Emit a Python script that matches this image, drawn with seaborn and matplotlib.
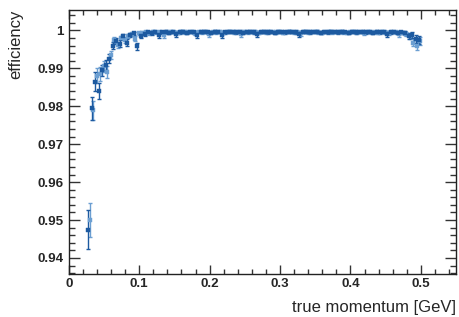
import numpy as np
import pandas as pd
import matplotlib
matplotlib.use('Agg')
import matplotlib.pyplot as plt
from matplotlib.ticker import MultipleLocator, FuncFormatter
import seaborn as sns

sns.set_style('ticks')
plt.rcParams['font.family'] = ['Liberation Sans', 'DejaVu Sans']

# bin centres (GeV), two overlaid samples
x_dark = np.arange(95) * 0.005 + 0.0275
x_light = np.arange(95) * 0.005 + 0.0295

eff_dark = [
    0.9475, 0.9795, 0.9865, 0.9840, 0.9895, 0.9908, 0.9925, 0.9960, 0.9972, 0.9965,
    0.9985, 0.9968, 0.9988, 0.9993, 0.9958, 0.9985, 0.9990,
    0.9995, 0.9993, 0.9996, 0.9988, 0.9995, 0.9997, 0.9994, 0.9996, 0.9990, 0.9995,
    0.9997, 0.9994, 0.9996, 0.9995, 0.9989, 0.9996, 0.9997, 0.9995, 0.9994, 0.9997,
    0.9996, 0.9988, 0.9995, 0.9997, 0.9996, 0.9995, 0.9997, 0.9994, 0.9996, 0.9997,
    0.9995, 0.9990, 0.9996, 0.9997, 0.9995, 0.9996, 0.9994, 0.9997, 0.9996, 0.9995,
    0.9997, 0.9996, 0.9995, 0.9991, 0.9996, 0.9997, 0.9995, 0.9996, 0.9997, 0.9994,
    0.9996, 0.9995, 0.9997, 0.9996, 0.9995, 0.9997, 0.9996, 0.9994, 0.9997, 0.9995,
    0.9996, 0.9997, 0.9995, 0.9996, 0.9994, 0.9997, 0.9995, 0.9996, 0.9990, 0.9995,
    0.9996, 0.9994, 0.9995,
    0.9993, 0.9985, 0.9988, 0.9978, 0.9975,
]
err_dark = [
    0.0052, 0.0030, 0.0025, 0.0022, 0.0015, 0.0013, 0.0012, 0.0009, 0.0008, 0.0009,
    0.0006, 0.0008, 0.0005, 0.0004, 0.0010, 0.0006, 0.0005,
    0.0004, 0.0004, 0.0003, 0.0008, 0.0004, 0.0003, 0.0004, 0.0003, 0.0008, 0.0004,
    0.0003, 0.0004, 0.0003, 0.0004, 0.0009, 0.0003, 0.0003, 0.0004, 0.0004, 0.0003,
    0.0003, 0.0008, 0.0004, 0.0003, 0.0003, 0.0004, 0.0003, 0.0004, 0.0003, 0.0003,
    0.0004, 0.0008, 0.0003, 0.0003, 0.0004, 0.0003, 0.0004, 0.0003, 0.0003, 0.0004,
    0.0003, 0.0003, 0.0004, 0.0008, 0.0003, 0.0003, 0.0004, 0.0003, 0.0003, 0.0004,
    0.0003, 0.0004, 0.0003, 0.0003, 0.0004, 0.0003, 0.0003, 0.0004, 0.0003, 0.0004,
    0.0003, 0.0003, 0.0004, 0.0003, 0.0004, 0.0003, 0.0004, 0.0003, 0.0008, 0.0004,
    0.0003, 0.0004, 0.0004,
    0.0005, 0.0008, 0.0007, 0.0010, 0.0010,
]

eff_light = [
    0.9500, 0.9790, 0.9880, 0.9885, 0.9905, 0.9890, 0.9935, 0.9975, 0.9962, 0.9980,
    0.9975, 0.9985, 0.9990, 0.9978, 0.9992,
    0.9994, 0.9996, 0.9993, 0.9997, 0.9995, 0.9996, 0.9989, 0.9995, 0.9997, 0.9996,
    0.9994, 0.9997, 0.9995, 0.9996, 0.9997, 0.9993, 0.9996, 0.9995, 0.9997, 0.9990,
    0.9996, 0.9995, 0.9997, 0.9994, 0.9996, 0.9997, 0.9995, 0.9996, 0.9991, 0.9997,
    0.9995, 0.9996, 0.9997, 0.9994, 0.9996, 0.9995, 0.9997, 0.9996, 0.9995, 0.9997,
    0.9994, 0.9996, 0.9997, 0.9995, 0.9996, 0.9992, 0.9997, 0.9995, 0.9996, 0.9997,
    0.9995, 0.9994, 0.9996, 0.9997, 0.9995, 0.9996, 0.9997, 0.9995, 0.9994, 0.9996,
    0.9997, 0.9995, 0.9996, 0.9993, 0.9997, 0.9995, 0.9996, 0.9994, 0.9997, 0.9995,
    0.9993, 0.9996, 0.9995, 0.9991, 0.9994,
    0.9990, 0.9985, 0.9968, 0.9960, 0.9972,
]
err_light = [
    0.0045, 0.0025, 0.0020, 0.0018, 0.0014, 0.0015, 0.0011, 0.0007, 0.0008, 0.0006,
    0.0007, 0.0005, 0.0004, 0.0006, 0.0004,
    0.0004, 0.0003, 0.0004, 0.0003, 0.0004, 0.0003, 0.0008, 0.0004, 0.0003, 0.0003,
    0.0004, 0.0003, 0.0004, 0.0003, 0.0003, 0.0005, 0.0003, 0.0004, 0.0003, 0.0008,
    0.0003, 0.0004, 0.0003, 0.0004, 0.0003, 0.0003, 0.0004, 0.0003, 0.0008, 0.0003,
    0.0004, 0.0003, 0.0003, 0.0004, 0.0003, 0.0004, 0.0003, 0.0003, 0.0004, 0.0003,
    0.0004, 0.0003, 0.0003, 0.0004, 0.0003, 0.0007, 0.0003, 0.0004, 0.0003, 0.0003,
    0.0004, 0.0004, 0.0003, 0.0003, 0.0004, 0.0003, 0.0003, 0.0004, 0.0004, 0.0003,
    0.0003, 0.0004, 0.0003, 0.0005, 0.0003, 0.0004, 0.0003, 0.0004, 0.0003, 0.0004,
    0.0005, 0.0003, 0.0004, 0.0008, 0.0004,
    0.0006, 0.0008, 0.0010, 0.0011, 0.0010,
]

df_dark = pd.DataFrame({'p': x_dark, 'eff': eff_dark, 'err': err_dark})
df_light = pd.DataFrame({'p': x_light, 'eff': eff_light, 'err': err_light})

dark_col = '#1d5aa0'
light_col = '#6c9fd2'

fig, ax = plt.subplots(figsize=(4.59, 3.17), dpi=100)
fig.subplots_adjust(left=0.150, right=0.9935, bottom=0.136, top=0.970)

for df, col in [(df_light, light_col), (df_dark, dark_col)]:
    ax.errorbar(df['p'], df['eff'], yerr=df['err'], fmt='none', ecolor=col,
                elinewidth=1.0, capsize=1.4, capthick=1.0, zorder=2)
    sns.scatterplot(data=df, x='p', y='eff', marker='s', s=9, color=col,
                    edgecolor=col, linewidth=0.3, ax=ax, zorder=3)

ax.set_xlim(0, 0.55)
ax.set_ylim(0.9358, 1.0055)

ax.xaxis.set_major_locator(MultipleLocator(0.1))
ax.xaxis.set_minor_locator(MultipleLocator(0.02))
ax.yaxis.set_major_locator(MultipleLocator(0.01))
ax.yaxis.set_minor_locator(MultipleLocator(0.002))
fmt = FuncFormatter(lambda v, pos: '%g' % round(v, 4))
ax.xaxis.set_major_formatter(fmt)
ax.yaxis.set_major_formatter(fmt)

ax.tick_params(which='both', direction='in', top=True, right=True,
               width=1.0, color='#333333')
ax.tick_params(axis='y', which='major', length=7.9, pad=4)
ax.tick_params(axis='y', which='minor', length=4.3)
ax.tick_params(axis='x', which='major', length=6.5, pad=3)
ax.tick_params(axis='x', which='minor', length=3.3)
for lab in ax.get_xticklabels() + ax.get_yticklabels():
    lab.set_fontweight('bold')
    lab.set_fontsize(9.6)

for sp in ax.spines.values():
    sp.set_linewidth(1.0)
    sp.set_color('#222222')

ax.set_xlabel('true momentum [GeV]', loc='right', fontsize=12, labelpad=7)
ax.set_ylabel('efficiency', loc='top', fontsize=12, labelpad=10)

fig.savefig('out.png', dpi=100)
